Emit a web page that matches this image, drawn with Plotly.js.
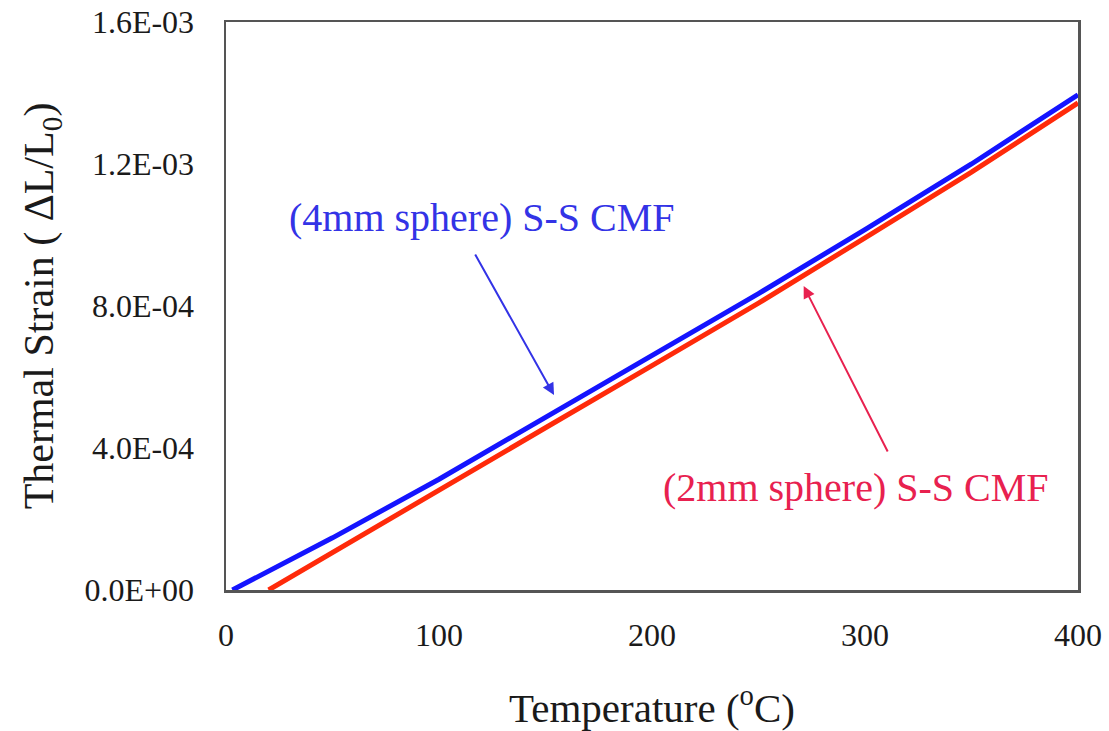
<!DOCTYPE html>
<html>
<head>
<meta charset="utf-8">
<script src="https://cdn.plot.ly/plotly-3.0.1.min.js"></script>
<style>
  html, body { margin: 0; padding: 0; background: #ffffff; }
  #chart { width: 1109px; height: 731px; }
</style>
</head>
<body>
<div id="chart"></div>
<script>
// Thermal strain of steel-steel composite metal foams vs. temperature
const temp4mm   = [3, 50, 100, 150, 200, 250, 300, 350, 400];
const strain4mm = [0, 1.47e-4, 3.12e-4, 4.85e-4, 6.60e-4, 8.35e-4, 1.015e-3, 1.200e-3, 1.395e-3];

const temp2mm   = [20, 50, 100, 150, 200, 250, 300, 350, 400];
const strain2mm = [0, 1.06e-4, 2.84e-4, 4.57e-4, 6.32e-4, 8.08e-4, 9.92e-4, 1.177e-3, 1.372e-3];

const xTickVals  = [0, 100, 200, 300, 400];
const yTickVals  = [0, 4e-4, 8e-4, 1.2e-3, 1.6e-3];
const yTickText  = ['0.0E+00', '4.0E-04', '8.0E-04', '1.2E-03', '1.6E-03'];

const label4mm = '(4mm sphere) S-S CMF';
const label2mm = '(2mm sphere) S-S CMF';

const serif = '"Liberation Serif", "Times New Roman", Times, serif';
const blueLine = '#1414ff';
const redLine  = '#ff2a0a';
const blueText = '#3333e6';
const redText  = '#e8214f';

const traces = [
  {
    x: temp4mm, y: strain4mm, type: 'scatter', mode: 'lines',
    name: label4mm, line: { color: blueLine, width: 5 }
  },
  {
    x: temp2mm, y: strain2mm, type: 'scatter', mode: 'lines',
    name: label2mm, line: { color: redLine, width: 5 }
  }
];

const layout = {
  width: 1109, height: 731,
  margin: { l: 226, r: 31, t: 22, b: 141 },
  paper_bgcolor: '#ffffff', plot_bgcolor: '#ffffff',
  showlegend: false,
  font: { family: serif, color: '#1a1a1a' },
  xaxis: {
    range: [0, 400], tickvals: xTickVals, ticks: '',
    showgrid: false, zeroline: false,
    showline: true, mirror: true, linecolor: '#555555', linewidth: 2.5,
    tickfont: { family: serif, size: 32, color: '#1a1a1a' },
    ticklabelstandoff: 15,
    title: { text: 'Temperature (<sup>o</sup>C)', font: { family: serif, size: 41, color: '#1a1a1a' }, standoff: 46 }
  },
  yaxis: {
    range: [0, 1.6e-3], tickvals: yTickVals, ticktext: yTickText, ticks: '',
    showgrid: false, zeroline: false,
    showline: true, mirror: true, linecolor: '#555555', linewidth: 2.5,
    tickfont: { family: serif, size: 32, color: '#1a1a1a' },
    ticklabelstandoff: 23,
    title: { text: 'Thermal Strain ( \u0394L/L<sub>0</sub>)', font: { family: serif, size: 42, color: '#1a1a1a' }, standoff: 18 }
  },
  annotations: [
    {
      x: 120, y: 1.048e-3, xref: 'x', yref: 'y', text: label4mm, showarrow: false,
      font: { family: serif, size: 40, color: blueText }
    },
    {
      x: 296, y: 2.9e-4, xref: 'x', yref: 'y', text: label2mm, showarrow: false,
      font: { family: serif, size: 40, color: redText }
    },
    {
      x: 154, y: 5.49e-4, xref: 'x', yref: 'y', axref: 'x', ayref: 'y',
      ax: 116.6, ay: 9.49e-4, text: '', showarrow: true,
      arrowhead: 2, arrowsize: 1.2, arrowwidth: 2, arrowcolor: blueText
    },
    {
      x: 271.2, y: 8.56e-4, xref: 'x', yref: 'y', axref: 'x', ayref: 'y',
      ax: 311, ay: 3.86e-4, text: '', showarrow: true,
      arrowhead: 2, arrowsize: 1.2, arrowwidth: 2, arrowcolor: redText
    }
  ]
};

Plotly.newPlot('chart', traces, layout, { displayModeBar: false, staticPlot: true });
</script>
</body>
</html>
